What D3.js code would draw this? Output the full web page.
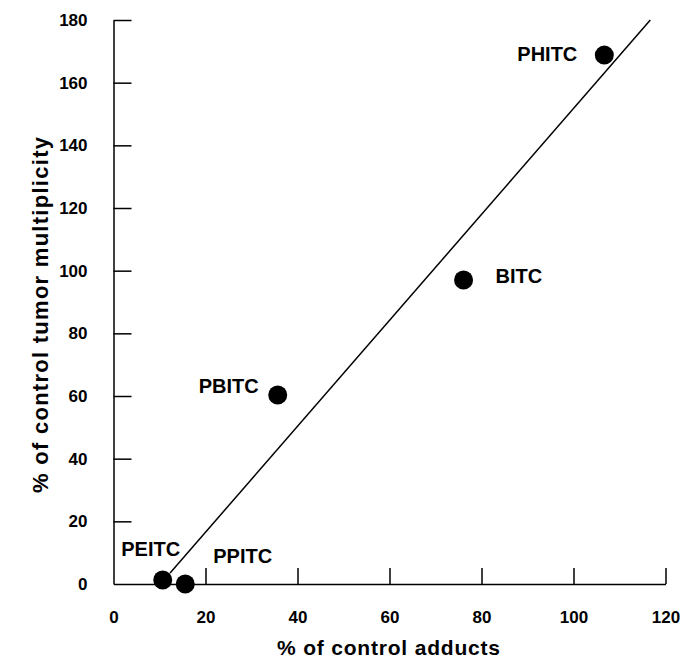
<!DOCTYPE html>
<html><head><meta charset="utf-8">
<script src="https://cdn.jsdelivr.net/npm/d3@7/dist/d3.min.js"></script>
<style>body{margin:0;background:#fff}</style>
</head><body>
<svg id="c" width="683" height="662"></svg>
<script>
const compounds = ["PHITC","BITC","PBITC","PEITC","PPITC"];
const adducts = [106.7, 76.1, 35.7, 10.7, 15.6];
const tumorMult = [168.8, 97.0, 60.3, 1.3, 0.0];
const fitLine = [[12.3, 3.5],[116.7, 180]];
const xTicks = [0,20,40,60,80,100,120];
const yTicks = [0,20,40,60,80,100,120,140,160,180];

const labelStyle = {
  PHITC:{dx:-27, dy:6, anchor:"end"},
  BITC:{dx:32, dy:3, anchor:"start"},
  PBITC:{dx:-19, dy:-2, anchor:"end"},
  PEITC:{dx:-12, dy:-24, anchor:"middle"},
  PPITC:{dx:28, dy:-21, anchor:"start"}
};

const svg = d3.select("#c");
const font = "'Liberation Sans', Arial, sans-serif";
const x = d3.scaleLinear().domain([0,120]).range([113.5,665.5]);
const y = d3.scaleLinear().domain([0,180]).range([584,20]);

// x axis
const xa = svg.append("g").attr("transform",`translate(0,${y(0)})`)
  .call(d3.axisBottom(x).tickValues(xTicks).tickSizeInner(-16).tickSizeOuter(0).tickPadding(27));
xa.select(".domain").attr("stroke","#000").attr("stroke-width",1.5);
xa.selectAll(".tick line").attr("stroke","#000").attr("stroke-width",1.5);
xa.selectAll(".tick").filter(d=>d===0).select("line").remove();
xa.selectAll("text").attr("font-family",font).attr("font-weight","bold").attr("font-size",17).attr("fill","#000");

// y axis
const ya = svg.append("g").attr("transform",`translate(${x(0)},0)`)
  .call(d3.axisLeft(y).tickValues(yTicks).tickSizeInner(-18).tickSizeOuter(0).tickPadding(26));
ya.select(".domain").attr("stroke","#000").attr("stroke-width",1.5);
ya.selectAll(".tick line").attr("stroke","#000").attr("stroke-width",1.5);
ya.selectAll(".tick").filter(d=>d===0).select("line").remove();
ya.selectAll("text").attr("font-family",font).attr("font-weight","bold").attr("font-size",17).attr("fill","#000");

// fit line
svg.append("line")
  .attr("x1",x(fitLine[0][0])).attr("y1",y(fitLine[0][1]))
  .attr("x2",x(fitLine[1][0])).attr("y2",y(fitLine[1][1]))
  .attr("stroke","#000").attr("stroke-width",1.5);

// points
const data = compounds.map((c,i)=>({c, xv:adducts[i], yv:tumorMult[i]}));
svg.selectAll("circle.pt").data(data).join("circle").attr("class","pt")
  .attr("cx",d=>x(d.xv)).attr("cy",d=>y(d.yv)).attr("r",9.5).attr("fill","#000");

svg.selectAll("text.lbl").data(data).join("text").attr("class","lbl")
  .attr("x",d=>x(d.xv)+labelStyle[d.c].dx).attr("y",d=>y(d.yv)+labelStyle[d.c].dy)
  .attr("text-anchor",d=>labelStyle[d.c].anchor)
  .attr("font-family",font).attr("font-weight","bold").attr("font-size",20)
  .text(d=>d.c);

// axis titles
svg.append("text").attr("x",388.5).attr("y",655).attr("text-anchor","middle")
  .attr("font-family",font).attr("font-weight","bold").attr("font-size",21)
  .attr("textLength",223).attr("lengthAdjust","spacing")
  .text("% of control adducts");
svg.append("text").attr("transform","translate(48,315) rotate(-90)").attr("text-anchor","middle")
  .attr("font-family",font).attr("font-weight","bold").attr("font-size",22)
  .attr("textLength",356).attr("lengthAdjust","spacing")
  .text("% of control tumor multiplicity");
</script>
</body></html>
